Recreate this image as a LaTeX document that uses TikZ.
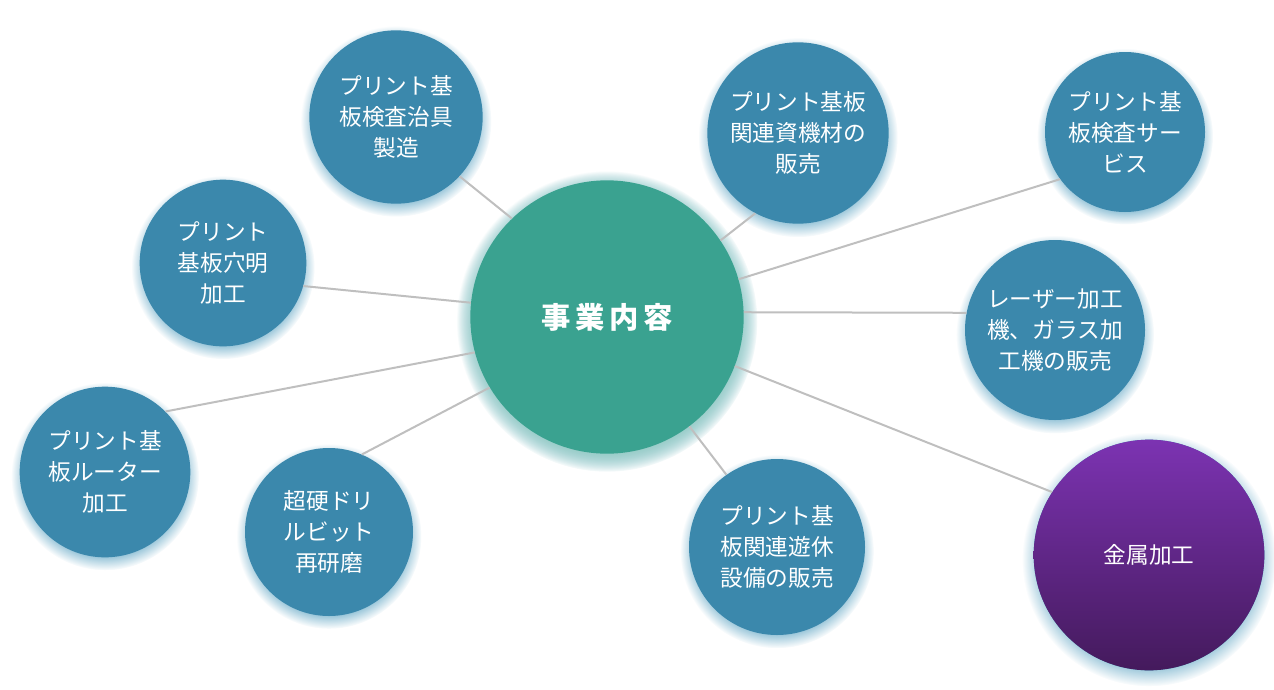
\documentclass[tikz,border=0pt]{standalone}
\usepackage{fontspec}
\newfontfamily\jp{Noto Sans CJK JP}
\usetikzlibrary{shadows}
\definecolor{nodeblue}{RGB}{59,136,172}
\definecolor{hubteal}{RGB}{58,162,144}
\definecolor{ptop}{RGB}{124,51,178}
\definecolor{pbot}{RGB}{68,26,92}
\definecolor{glowblue}{RGB}{140,190,212}
\definecolor{glowteal}{RGB}{150,206,195}
\definecolor{linegray}{RGB}{191,191,191}
\begin{document}
\begin{tikzpicture}
  [x=0.75pt,y=-0.75pt,
   fringe/.style={circular drop shadow={shadow xshift=0pt,shadow yshift=-3pt,fill=#1,opacity=.9}},
   every node/.style={circle,fill=nodeblue,text=white,align=center,inner sep=0pt,
     font=\jp\fontsize{17}{23.25}\selectfont,fringe=glowblue},
   link/.style={draw=linegray,line width=1.5pt}]
  \useasboundingbox (0,0) rectangle (1274,689);
  \node[fill=hubteal,fringe=glowteal,minimum size=205pt,
        font=\jp\bfseries\fontsize{22}{26}\selectfont] (c) at (607,317) {事\,業\,内\,容};
  \node[minimum size=130pt] (n1) at (396,117) {プリント基\\板検査治具\\製造};
  \node[minimum size=136pt] (n2) at (798,133) {プリント基板\\関連資機材の\\販売};
  \node[minimum size=120pt] (n3) at (1125,132) {プリント基\\板検査サー\\ビス};
  \node[minimum size=125pt] (n4) at (223,263) {プリント\\基板穴明\\加工};
  \node[minimum size=135pt] (n5) at (1055,330) {レーザー加工\\機、ガラス加\\工機の販売};
  \node[minimum size=128pt] (n6) at (105,472) {プリント基\\板ルーター\\加工};
  \node[minimum size=126pt] (n7) at (329,532) {超硬ドリ\\ルビット\\再研磨};
  \node[minimum size=132pt] (n8) at (777,547) {プリント基\\板関連遊休\\設備の販売};
  \node[top color=ptop,bottom color=pbot,minimum size=173pt] (n9) at (1149,555) {金属加工};
  \foreach \a/\n/\b in {134/n1/317,34/n2/242,16/n3/216,2/n5/169,339/n9/147,
                        307/n8/125,211/n7/67,195/n6/45,174/n4/344}
    \draw[link] (c.\a) -- (\n.\b);

\end{tikzpicture}
\end{document}
